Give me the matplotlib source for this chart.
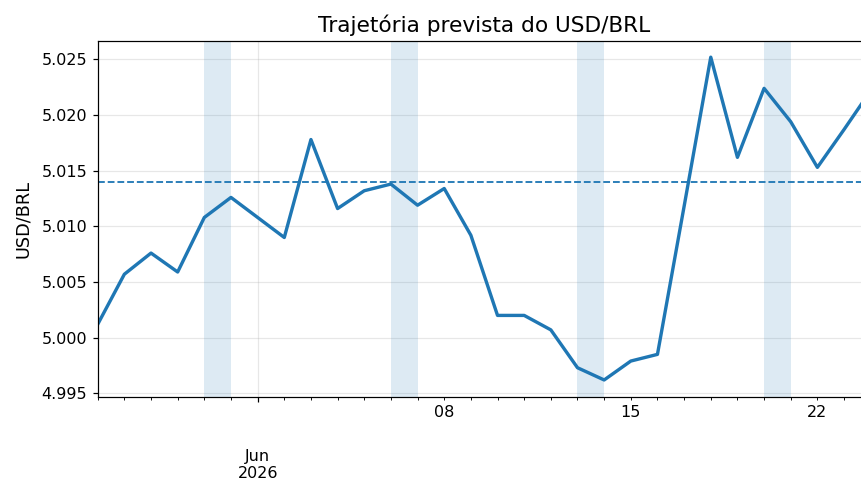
import pandas as pd
import matplotlib
matplotlib.use('Agg')
import matplotlib.pyplot as plt

# Daily forecast path, 26 May -> 24 Jun 2026
dates = pd.date_range('2026-05-26', '2026-06-24', freq='D')
usd_brl = [5.0012, 5.0057, 5.0076, 5.0059, 5.0108, 5.0126, 5.0108, 5.0090,
           5.0178, 5.0116, 5.0132, 5.0138, 5.0119, 5.0134, 5.0092, 5.0020,
           5.0020, 5.0007, 4.9973, 4.9962, 4.9979, 4.9985, 5.0118, 5.0252,
           5.0162, 5.0224, 5.0194, 5.0153, 5.0187, 5.0222]
media = 5.0140
weekends = [('2026-05-30', '2026-05-31'), ('2026-06-06', '2026-06-07'),
            ('2026-06-13', '2026-06-14'), ('2026-06-20', '2026-06-21')]
month_tick = '2026-06-01'
month_label = '\n\nJun\n2026'
week_ticks = ['2026-06-08', '2026-06-15', '2026-06-22']
week_labels = ['08', '15', '22']

fig = plt.figure(figsize=(861 / 110, 482 / 110), dpi=110)
ax = fig.add_axes([97.7 / 861, 1 - 397 / 482, (870.7 - 97.7) / 861, (397 - 40.7) / 482])

for start, end in weekends:
    ax.axvspan(pd.Timestamp(start), pd.Timestamp(end), color='tab:blue', alpha=0.15, lw=0)
ax.plot(dates, usd_brl, color='tab:blue', lw=2.2)
ax.axhline(media, color='tab:blue', ls='--', lw=1.2)

ax.set_xlim(dates[0], dates[-1])
ax.set_ylim(4.99467, 5.02668)
ax.set_yticks([4.995, 5.000, 5.005, 5.010, 5.015, 5.020, 5.025])
ax.yaxis.set_major_formatter(matplotlib.ticker.FormatStrFormatter('%.3f'))

ax.set_xticks([pd.Timestamp(month_tick)])
ax.set_xticklabels([month_label])
ax.set_xticks(dates, minor=True)
minor_labels = []
for d in dates:
    s = d.strftime('%Y-%m-%d')
    minor_labels.append(week_labels[week_ticks.index(s)] if s in week_ticks else '')
ax.set_xticklabels(minor_labels, minor=True)
ax.tick_params(axis='both', which='both', labelsize=10.5)
ax.tick_params(axis='x', which='major', pad=7.5)

ax.grid(True, which='major', alpha=0.3)
ax.set_axisbelow(True)
ax.set_title('Trajetória prevista do USD/BRL', fontsize=14.2)
ax.set_ylabel('USD/BRL', fontsize=11.5, labelpad=6)

fig.savefig('out.png', dpi=110)
